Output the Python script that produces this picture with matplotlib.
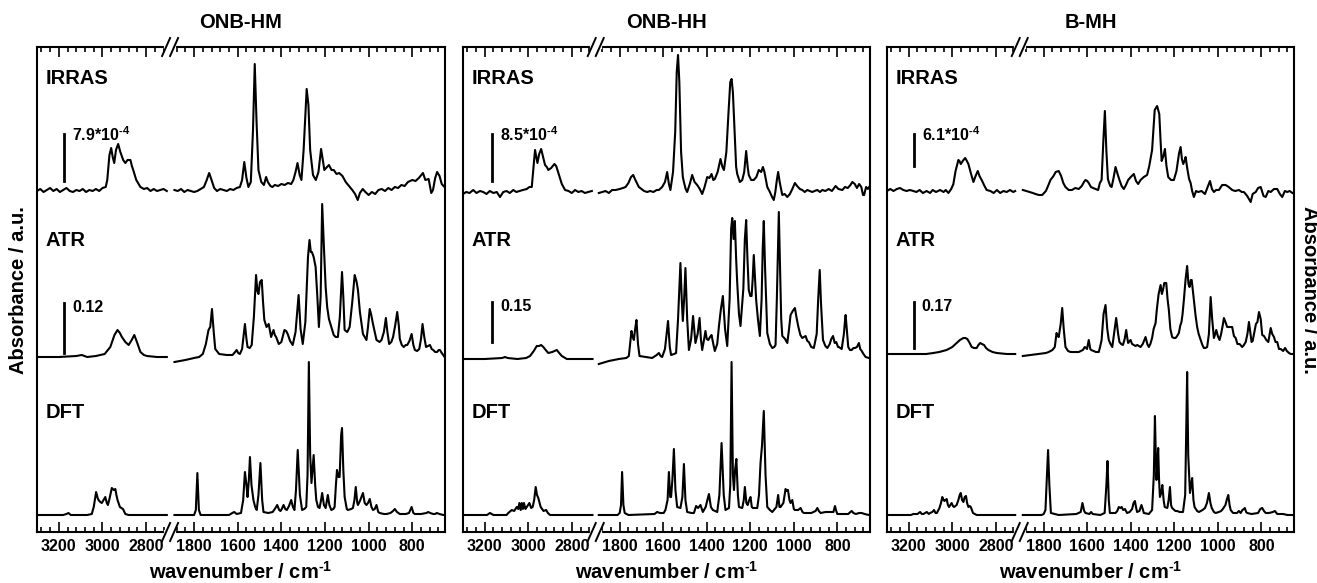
import numpy as np
import matplotlib
matplotlib.use("Agg")
import matplotlib.pyplot as plt
from matplotlib.lines import Line2D
from matplotlib.ticker import MultipleLocator

plt.rcParams['font.family'] = ['Liberation Sans', 'DejaVu Sans']
plt.rcParams['font.weight'] = 'bold'
plt.rcParams['mathtext.fontset'] = 'custom'
plt.rcParams['mathtext.rm'] = 'Liberation Sans:bold'
plt.rcParams['mathtext.bf'] = 'Liberation Sans:bold'
plt.rcParams['mathtext.default'] = 'rm'

# (wavenumber / cm-1, absorbance in a.u.)
hm_irras = [(3300,-1),(3285,1),(3270,-2),(3255,0),(3240,2),(3225,-1),(3210,1),(3195,-2),(3180,0),(3165,2),(3150,-1),(3135,-2),(3120,0),(3105,-1),(3090,1),(3075,-2),(3060,0),(3045,-1),(3030,1),(3015,-1),(3000,2),(2985,3),(2978,10),(2968,35),(2960,42),(2953,33),(2946,27),(2938,40),(2928,46),(2918,38),(2905,30),(2895,27),(2885,30),(2872,30),(2865,24),(2859,20),(2845,10),(2826,3),(2810,1),(2795,2),(2780,-1),(2765,1),(2750,-1),(2735,0),(2720,1),(2705,-1),
            (1890,0),(1875,-1),(1860,1),(1845,-2),(1830,0),(1815,-1),(1800,-2),(1785,-1),(1770,1),(1755,3),(1742,10),(1731,17),(1720,10),(1708,2),(1695,-1),(1680,1),(1665,0),(1650,-1),(1635,1),(1620,0),(1605,2),(1590,3),(1580,10),(1570,28),(1560,12),(1551,3),(1540,8),(1530,60),(1522,126),(1514,70),(1505,20),(1492,8),(1480,5),(1470,13),(1462,8),(1450,4),(1441,3),(1430,5),(1415,4),(1400,6),(1385,5),(1370,7),(1355,6),(1345,10),(1335,18),(1326,27),(1316,15),(1308,10),(1298,40),(1284,101),(1276,85),(1268,40),(1255,15),(1242,10),(1230,18),(1218,41),(1210,30),(1203,20),(1195,22),(1182,25),(1170,20),(1160,20),(1147,16),(1135,17),(1120,14),(1105,8),(1090,4),(1075,0),(1062,-4),(1050,-10),(1040,-3),(1027,1),(1015,-2),(1000,-5),(985,-2),(970,-4),(955,0),(940,1),(925,-1),(910,2),(895,0),(880,3),(865,2),(850,5),(835,4),(820,8),(800,10),(785,9),(770,12),(751,17),(740,10),(725,11),(713,-3),(705,0),(695,12),(686,18),(675,14),(665,6),(652,3)]

hm_atr = [(3300,0),(3200,0),(3120,1),(3095,2),(3070,0),(3030,1),(2990,3),(2964,10),(2945,22),(2931,27),(2920,24),(2911,20),(2895,15),(2880,12),(2866,17),(2854,22),(2842,15),(2826,5),(2810,2),(2796,1),(2750,0),(2705,0),
          (1890,-5),(1840,-3),(1800,-1),(1777,0),(1760,3),(1746,13),(1734,27),(1726,30),(1718,48),(1710,25),(1703,8),(1685,3),(1650,2),(1624,2),(1612,5),(1605,7),(1598,4),(1590,3),(1580,8),(1567,33),(1560,18),(1555,10),(1545,9),(1536,12),(1526,40),(1516,82),(1510,66),(1505,63),(1498,75),(1490,77),(1484,55),(1478,37),(1468,30),(1458,33),(1447,20),(1436,27),(1430,22),(1424,20),(1412,13),(1400,15),(1386,27),(1378,26),(1371,23),(1360,16),(1348,12),(1335,25),(1321,62),(1312,28),(1302,13),(1290,35),(1278,100),(1271,117),(1265,105),(1260,105),(1252,100),(1243,90),(1235,60),(1228,30),(1220,60),(1213,153),(1205,110),(1197,70),(1190,50),(1182,38),(1171,30),(1160,22),(1151,20),(1141,20),(1132,40),(1122,85),(1116,60),(1110,27),(1098,25),(1087,30),(1075,55),(1064,82),(1055,75),(1049,67),(1040,45),(1026,23),(1018,20),(1010,17),(1003,30),(995,48),(988,42),(980,33),(972,25),(964,17),(950,15),(941,17),(930,25),(921,39),(914,25),(906,13),(896,15),(888,20),(878,32),(869,45),(862,32),(857,18),(848,12),(839,10),(830,12),(823,12),(813,16),(803,23),(795,12),(788,7),(778,6),(768,8),(760,18),(753,33),(745,20),(737,10),(728,11),(719,12),(711,8),(704,7),(695,5),(686,5),(679,7),(673,7),(665,4),(658,2),(652,0)]

hm_dft = [(3300,0),(3180,0),(3165,1),(3156,2),(3145,0),(3070,0),(3049,1),(3040,8),(3029,23),(3022,17),(3018,15),(3010,13),(3003,12),(2995,15),(2987,18),(2980,12),(2975,10),(2968,16),(2957,27),(2948,25),(2941,26),(2936,20),(2931,15),(2920,8),(2906,6),(2895,1),(2880,0),(2705,0),
          (1890,0),(1800,0),(1792,5),(1785,42),(1778,5),(1770,0),(1640,0),(1625,2),(1616,3),(1605,1),(1585,2),(1575,15),(1567,43),(1560,30),(1555,18),(1549,35),(1544,58),(1537,30),(1528,15),(1520,8),(1513,5),(1505,20),(1496,52),(1488,15),(1482,3),(1460,2),(1440,3),(1430,6),(1419,10),(1410,5),(1404,4),(1398,6),(1390,10),(1382,6),(1375,5),(1365,9),(1355,15),(1347,8),(1340,5),(1333,25),(1325,65),(1315,20),(1305,5),(1295,6),(1286,8),(1280,40),(1274,153),(1268,60),(1262,32),(1252,60),(1245,30),(1240,15),(1232,8),(1225,7),(1218,15),(1213,22),(1205,10),(1197,7),(1187,20),(1180,10),(1171,5),(1162,6),(1156,8),(1150,30),(1145,45),(1138,38),(1133,38),(1126,80),(1122,87),(1116,45),(1110,18),(1100,6),(1095,5),(1080,6),(1072,7),(1065,15),(1059,28),(1052,12),(1049,10),(1040,14),(1033,18),(1026,22),(1018,12),(1010,10),(1003,12),(995,16),(987,8),(980,5),(972,6),(964,10),(956,3),(949,2),(930,1),(918,1),(900,2),(888,4),(880,6),(870,3),(857,1),(830,1),(815,2),(803,8),(795,2),(788,1),(760,1),(735,2),(727,3),(718,2),(704,1),(695,1),(688,2),(675,1),(658,0),(652,0)]

hh_irras = [(3300,-2),(3285,0),(3270,-1),(3253,2),(3238,-1),(3222,1),(3207,0),(3192,-2),(3177,1),(3160,-1),(3145,0),(3130,-5),(3115,0),(3100,1),(3085,-1),(3069,2),(3055,0),(3040,1),(3025,2),(3007,3),(2995,5),(2984,5),(2976,25),(2969,42),(2963,35),(2958,29),(2950,38),(2941,43),(2932,35),(2923,27),(2915,25),(2908,22),(2895,24),(2880,28),(2872,26),(2866,22),(2856,15),(2846,8),(2831,2),(2815,1),(2800,-1),(2785,2),(2770,0),(2755,1),(2740,-1),(2725,0),(2708,1),
            (1896,-1),(1880,0),(1865,1),(1850,-1),(1835,2),(1819,2),(1800,3),(1785,4),(1773,5),(1760,9),(1748,15),(1738,17),(1728,12),(1712,5),(1700,3),(1688,1),(1674,0),(1660,1),(1645,0),(1630,2),(1620,2),(1605,5),(1592,10),(1582,20),(1574,8),(1567,2),(1555,20),(1545,60),(1538,120),(1532,137),(1526,110),(1518,40),(1510,15),(1505,10),(1497,3),(1490,0),(1478,8),(1467,17),(1456,10),(1444,7),(1432,3),(1421,-2),(1410,5),(1398,15),(1388,14),(1378,18),(1370,12),(1363,13),(1350,20),(1337,33),(1328,25),(1321,22),(1310,40),(1300,80),(1292,110),(1286,113),(1280,100),(1272,60),(1265,25),(1260,18),(1248,10),(1237,12),(1228,20),(1219,41),(1212,25),(1207,17),(1196,12),(1184,12),(1172,15),(1161,22),(1150,20),(1142,25),(1135,20),(1122,5),(1110,0),(1100,-5),(1092,-8),(1085,0),(1078,12),(1072,20),(1065,10),(1053,-3),(1042,-2),(1030,-5),(1018,-2),(1007,3),(995,9),(985,6),(972,3),(961,2),(950,0),(938,2),(927,1),(915,0),(905,1),(892,2),(880,0),(869,2),(855,1),(840,3),(825,1),(808,6),(795,3),(777,2),(765,5),(752,4),(740,7),(731,10),(720,8),(710,4),(700,8),(690,5),(682,-3),(677,-3),(668,5),(660,3),(654,5)]

hh_atr = [(3300,0),(3200,0),(3120,1),(3107,2),(3095,1),(3050,0),(3010,1),(2992,3),(2975,8),(2961,13),(2950,13),(2941,14),(2931,12),(2920,9),(2908,6),(2890,7),(2869,9),(2858,6),(2846,3),(2823,0),(2800,0),(2705,0),
          (1896,-5),(1850,-2),(1804,0),(1770,1),(1758,3),(1752,15),(1746,28),(1740,22),(1735,19),(1729,30),(1723,39),(1716,15),(1709,3),(1680,2),(1651,1),(1630,4),(1620,6),(1612,3),(1605,2),(1592,10),(1578,38),(1570,12),(1564,4),(1550,5),(1541,6),(1532,40),(1521,96),(1515,60),(1510,38),(1504,60),(1498,91),(1490,40),(1482,9),(1472,20),(1463,43),(1456,25),(1452,16),(1442,25),(1433,41),(1427,20),(1421,9),(1412,20),(1406,28),(1400,20),(1393,19),(1385,22),(1378,24),(1370,15),(1363,8),(1352,15),(1344,33),(1335,50),(1326,63),(1316,30),(1306,13),(1295,60),(1288,130),(1283,141),(1277,120),(1271,138),(1265,100),(1260,76),(1252,45),(1245,33),(1232,70),(1225,120),(1219,139),(1213,100),(1207,69),(1200,63),(1194,63),(1189,80),(1184,104),(1178,80),(1173,59),(1165,40),(1156,23),(1148,60),(1143,110),(1138,138),(1132,90),(1122,26),(1110,15),(1099,11),(1090,12),(1084,14),(1078,60),(1072,120),(1069,147),(1064,100),(1058,40),(1053,23),(1040,20),(1030,16),(1022,30),(1015,44),(1005,48),(995,51),(988,42),(980,33),(970,24),(961,21),(953,22),(946,23),(938,18),(931,17),(920,12),(908,11),(895,25),(888,60),(881,89),(875,55),(866,19),(855,13),(846,11),(835,15),(828,20),(820,23),(812,16),(805,17),(797,12),(793,12),(780,10),(770,25),(765,38),(762,44),(755,25),(750,12),(742,9),(734,9),(726,11),(719,11),(710,12),(701,16),(695,10),(688,8),(680,5),(670,2),(655,1)]

hh_dft = [(3300,0),(3190,0),(3176,2),(3160,0),(3100,0),(3092,2),(3076,5),(3065,4),(3053,8),(3046,6),(3041,12),(3035,5),(3030,12),(3025,6),(3020,12),(3013,6),(3007,8),(2995,12),(2987,7),(2980,8),(2973,15),(2966,28),(2960,20),(2954,17),(2948,12),(2943,8),(2930,4),(2918,5),(2910,2),(2900,0),(2705,0),
          (1896,0),(1810,0),(1800,2),(1794,10),(1789,43),(1783,10),(1777,2),(1760,0),(1640,1),(1628,3),(1615,2),(1598,2),(1590,5),(1580,15),(1574,43),(1568,18),(1564,18),(1558,35),(1551,66),(1544,25),(1536,8),(1521,7),(1512,18),(1505,51),(1498,15),(1490,3),(1470,2),(1459,2),(1449,9),(1440,7),(1429,10),(1418,3),(1405,8),(1396,16),(1390,21),(1381,8),(1372,5),(1352,3),(1342,20),(1332,72),(1322,20),(1314,5),(1298,7),(1292,30),(1286,153),(1280,40),(1275,25),(1270,45),(1264,56),(1257,20),(1252,8),(1237,7),(1230,15),(1225,28),(1218,12),(1212,10),(1205,15),(1199,18),(1193,8),(1188,7),(1168,7),(1160,20),(1153,52),(1146,70),(1138,104),(1130,40),(1122,8),(1110,5),(1099,3),(1080,8),(1072,20),(1066,8),(1061,8),(1048,12),(1038,26),(1032,24),(1027,25),(1020,15),(1015,12),(1007,15),(1000,6),(995,5),(980,5),(969,7),(960,3),(954,2),(920,2),(900,4),(892,7),(885,4),(877,2),(854,3),(818,3),(811,9),(805,4),(800,1),(750,1),(740,3),(734,4),(726,2),(715,1),(700,2),(688,2),(675,1),(655,0)]

bmh_irras = [(3300,0),(3285,2),(3270,0),(3255,2),(3240,3),(3225,1),(3210,0),(3195,1),(3179,0),(3165,-1),(3150,1),(3135,-2),(3118,0),(3102,-2),(3090,1),(3075,-1),(3056,1),(3040,-1),(3030,1),(3018,-2),(3005,2),(2995,7),(2985,20),(2972,31),(2967,30),(2961,27),(2952,30),(2941,33),(2933,30),(2926,27),(2915,18),(2903,9),(2893,15),(2883,20),(2875,15),(2865,11),(2852,5),(2842,1),(2825,0),(2810,-2),(2795,1),(2780,-2),(2765,0),(2750,-1),(2735,1),(2720,-1),(2711,0),
             (1896,1),(1880,0),(1865,-1),(1850,-2),(1838,-3),(1822,-4),(1807,-4),(1790,0),(1780,5),(1769,11),(1755,15),(1745,19),(1731,20),(1720,15),(1710,8),(1700,4),(1685,1),(1670,1),(1655,3),(1639,2),(1625,5),(1615,9),(1608,11),(1600,10),(1593,8),(1583,4),(1573,3),(1562,2),(1550,1),(1542,8),(1534,11),(1526,50),(1519,80),(1512,40),(1505,12),(1501,9),(1494,5),(1488,4),(1480,12),(1470,24),(1462,18),(1452,11),(1442,5),(1432,2),(1422,6),(1412,11),(1400,14),(1386,17),(1376,10),(1366,7),(1355,11),(1340,14),(1325,16),(1315,25),(1302,41),(1290,81),(1279,85),(1269,77),(1263,50),(1258,30),(1250,35),(1243,42),(1236,25),(1228,14),(1215,11),(1202,11),(1190,20),(1178,38),(1171,44),(1165,32),(1159,27),(1153,30),(1148,34),(1140,22),(1132,12),(1125,8),(1118,0),(1110,-6),(1100,0),(1090,-1),(1075,0),(1059,-3),(1045,5),(1036,10),(1027,2),(1018,-1),(1008,1),(995,1),(980,6),(964,6),(950,4),(934,1),(920,0),(903,1),(890,-1),(880,-1),(865,-5),(849,-11),(840,-3),(826,-1),(815,3),(803,4),(790,-5),(780,-6),(768,0),(757,-1),(742,2),(727,2),(715,-3),(704,-6),(692,0),(681,-1),(670,0),(657,-2)]

bmh_atr = [(3300,0),(3200,0),(3120,0),(3087,1),(3060,2),(3026,4),(3000,7),(2980,11),(2965,14),(2949,16),(2940,16),(2931,15),(2920,11),(2911,7),(2900,6),(2888,6),(2880,9),(2872,11),(2864,10),(2854,9),(2845,6),(2834,4),(2815,2),(2796,1),(2750,0),(2711,0),
           (1896,-2),(1860,-1),(1823,0),(1790,1),(1777,2),(1760,4),(1749,7),(1741,21),(1736,18),(1731,17),(1722,30),(1715,46),(1708,25),(1700,7),(1688,3),(1677,2),(1660,2),(1639,2),(1620,4),(1611,7),(1605,6),(1601,5),(1593,14),(1586,5),(1582,4),(1560,2),(1547,2),(1540,8),(1534,14),(1525,40),(1516,49),(1508,25),(1501,14),(1493,10),(1485,7),(1477,20),(1467,36),(1458,20),(1452,12),(1444,10),(1436,9),(1428,15),(1421,24),(1416,16),(1412,11),(1401,14),(1394,10),(1386,9),(1378,8),(1370,9),(1355,7),(1345,10),(1332,17),(1324,10),(1317,7),(1310,10),(1302,16),(1295,25),(1286,31),(1280,45),(1272,60),(1263,69),(1257,60),(1252,64),(1246,71),(1237,71),(1231,55),(1225,44),(1218,25),(1210,17),(1202,16),(1194,16),(1187,18),(1179,21),(1173,28),(1167,32),(1162,40),(1156,54),(1148,75),(1141,88),(1135,70),(1130,67),(1124,74),(1120,74),(1114,62),(1110,54),(1102,38),(1095,27),(1088,20),(1079,14),(1071,9),(1064,6),(1057,6),(1049,7),(1041,20),(1033,57),(1026,35),(1018,16),(1012,20),(1007,24),(1000,18),(992,14),(985,20),(978,28),(972,36),(965,32),(957,27),(950,27),(943,27),(934,27),(926,18),(918,16),(910,10),(900,10),(888,7),(880,9),(872,12),(864,20),(857,32),(851,22),(845,12),(840,13),(834,20),(825,30),(818,32),(811,42),(803,35),(796,19),(788,18),(777,14),(768,12),(757,26),(750,20),(742,17),(735,12),(727,12),(719,5),(711,5),(700,3),(691,6),(683,3),(673,1),(665,0),(657,0)]

bmh_dft = [(3300,0),(3190,0),(3179,1),(3160,1),(3148,3),(3140,1),(3133,1),(3125,2),(3117,3),(3108,1),(3102,2),(3092,3),(3084,5),(3077,2),(3071,2),(3059,7),(3052,12),(3046,18),(3040,15),(3036,14),(3031,15),(3026,16),(3020,10),(3015,8),(3009,10),(3003,12),(2997,9),(2992,8),(2986,9),(2980,10),(2972,15),(2966,20),(2961,22),(2955,15),(2949,13),(2943,18),(2937,19),(2932,12),(2926,8),(2920,9),(2915,8),(2905,2),(2888,0),(2711,0),
           (1896,0),(1810,0),(1800,1),(1792,5),(1785,40),(1780,65),(1774,30),(1767,2),(1731,0),(1650,1),(1630,3),(1622,12),(1614,4),(1608,2),(1590,1),(1582,3),(1575,1),(1540,0),(1520,2),(1512,30),(1507,54),(1501,15),(1496,2),(1470,2),(1462,4),(1455,8),(1448,7),(1442,8),(1435,5),(1427,6),(1417,2),(1405,3),(1394,6),(1387,12),(1381,14),(1376,8),(1371,3),(1360,4),(1351,10),(1345,6),(1340,2),(1317,1),(1302,5),(1294,40),(1289,99),(1285,60),(1282,35),(1278,50),(1274,67),(1270,35),(1266,18),(1260,22),(1255,30),(1249,15),(1244,8),(1232,7),(1226,15),(1220,28),(1215,10),(1210,7),(1195,4),(1187,4),(1175,3),(1160,3),(1150,20),(1144,100),(1141,143),(1136,60),(1128,22),(1123,30),(1118,37),(1112,15),(1107,8),(1095,4),(1087,3),(1070,5),(1059,7),(1050,12),(1041,22),(1034,12),(1028,7),(1018,3),(1010,2),(995,3),(985,4),(977,6),(965,10),(958,16),(952,20),(946,10),(941,5),(930,2),(921,2),(912,2),(903,4),(895,2),(887,5),(880,6),(876,7),(870,3),(865,2),(845,1),(815,2),(805,6),(796,7),(788,4),(780,2),(765,2),(747,3),(738,4),(727,1),(700,1),(680,0),(657,0)]

titles = ["ONB-HM", "ONB-HH", "B-MH"]
spectra = [(hm_irras, hm_atr, hm_dft), (hh_irras, hh_atr, hh_dft), (bmh_irras, bmh_atr, bmh_dft)]
irras_scale = [r"7.9*10$^{\text{-4}}$", r"8.5*10$^{\text{-4}}$", r"6.1*10$^{\text{-4}}$"]
atr_scale = ["0.12", "0.15", "0.17"]

# layout (pixels of a 1317x583 canvas)
W, H = 1317, 583
panel_left = [37, 463, 887]
panel_width = [408, 407, 407]
top_px, bot_px = 47, 532
offsets = [(342, 175, 17), (340, 173, 17), (341, 178, 17)]
bar_x = [3175, 3165, 3175]
irras_bar = [(351, 398), (351, 398), (366, 398)]
atr_bar = [(179, 229), (190, 230), (184, 230)]
left_span, right_span = (3300, 2690), (1910, 650)
frac_left = (left_span[0] - left_span[1]) / ((left_span[0] - left_span[1]) + (right_span[0] - right_span[1]))

fig = plt.figure(figsize=(W / 100, H / 100), dpi=100)
y0 = (H - bot_px) / H
hgt = (bot_px - top_px) / H

for i in range(3):
    x0 = panel_left[i] / W
    wtot = panel_width[i] / W
    wl = wtot * frac_left
    axl = fig.add_axes([x0, y0, wl, hgt])
    axr = fig.add_axes([x0 + wl, y0, wtot - wl, hgt])
    axl.set_xlim(*left_span)
    axr.set_xlim(*right_span)
    for ax in (axl, axr):
        ax.set_ylim(0, bot_px - top_px)
        ax.set_yticks([])
        ax.xaxis.set_major_locator(MultipleLocator(200))
        ax.xaxis.set_minor_locator(MultipleLocator(40))
        ax.tick_params(axis='x', which='both', direction='in', top=True, bottom=True, width=1.2, labelsize=11.5, pad=5)
        ax.tick_params(axis='x', which='major', length=7)
        ax.tick_params(axis='x', which='minor', length=3.5)
        for s in ax.spines.values():
            s.set_linewidth(1.5)
    axl.spines['right'].set_visible(False)
    axr.spines['left'].set_visible(False)

    for spec, off in zip(spectra[i], offsets[i]):
        arr = np.array(spec, dtype=float)
        m = arr[:, 0] > 2300
        axl.plot(arr[m, 0], arr[m, 1] + off, color='black', lw=1.5)
        axr.plot(arr[~m, 0], arr[~m, 1] + off, color='black', lw=1.5)

    # scale bars
    axl.plot([bar_x[i]] * 2, irras_bar[i], color='black', lw=2)
    axl.plot([bar_x[i]] * 2, atr_bar[i], color='black', lw=2)
    axl.text(bar_x[i] - 35, irras_bar[i][1] - 7, irras_scale[i], fontsize=11.5, fontweight='bold', ha='left', va='baseline')
    axl.text(bar_x[i] - 35, atr_bar[i][1] - 9, atr_scale[i], fontsize=11.5, fontweight='bold', ha='left', va='baseline')

    # spectrum labels
    for lab, ypos in zip(["IRRAS", "ATR", "DFT"], [453, 292, 120]):
        axl.text(3262, ypos, lab, fontsize=14.5, fontweight='bold', ha='left', va='center')

    cx = (panel_left[i] + panel_width[i] / 2) / W
    fig.text(cx, (H - 23) / H, titles[i], fontsize=14.5, fontweight='bold', ha='center', va='center')
    fig.text(cx, (H - 572) / H, r"wavenumber / cm$^{\text{-1}}$", fontsize=14.5, fontweight='bold', ha='center', va='center')

    # axis break marks
    xj = panel_left[i] + panel_width[i] * frac_left
    for ypx in (top_px, bot_px):
        yb = H - ypx
        fig.add_artist(Line2D([(xj - 4) / W, (xj + 4) / W], [yb / H, yb / H], color='white', lw=3))
        for dx in (-4, 4):
            fig.add_artist(Line2D([(xj + dx - 4) / W, (xj + dx + 4) / W], [(yb - 9) / H, (yb + 9) / H], color='black', lw=1.4))

fig.text(19 / W, (H - 290) / H, "Absorbance / a.u.", fontsize=14.5, fontweight='bold', rotation=90, ha='center', va='center')
fig.text(1309 / W, (H - 290) / H, "Absorbance / a.u.", fontsize=14.5, fontweight='bold', rotation=-90, ha='center', va='center')

fig.savefig("out.png", dpi=100)
